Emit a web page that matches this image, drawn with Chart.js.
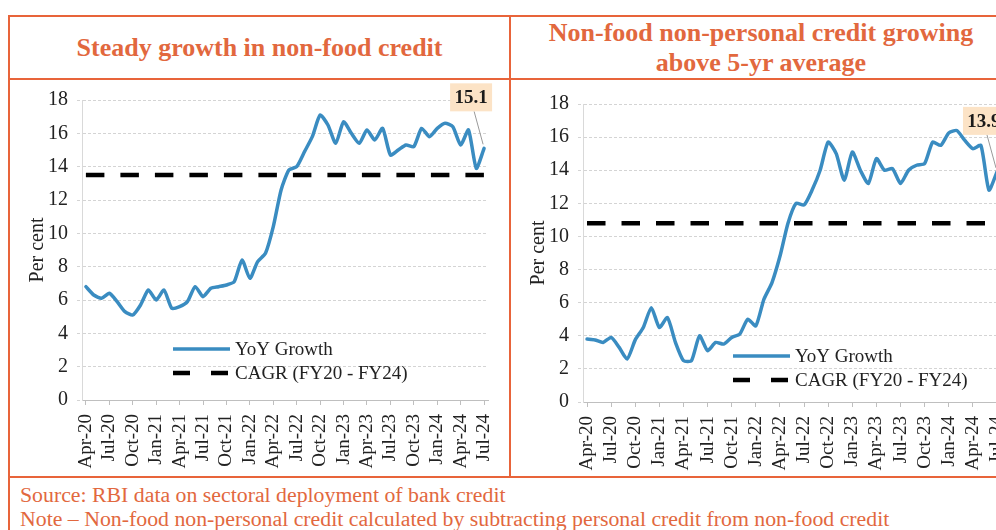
<!DOCTYPE html>
<html>
<head>
<meta charset="utf-8">
<script src="https://cdn.jsdelivr.net/npm/chart.js@4.4.1/dist/chart.umd.min.js"></script>
<style>
  html, body { margin: 0; padding: 0; background: #fff; }
  body { width: 996px; height: 530px; overflow: hidden; position: relative; font-family: 'Liberation Serif', 'Times New Roman', serif; }
  .rule { position: absolute; background: #e8643a; }
  .title { position: absolute; color: #e2683e; font-weight: bold; font-size: 26px; text-align: center; display: flex; align-items: center; justify-content: center; line-height: 30px; }
  .panel { position: absolute; }
  .notes { position: absolute; left: 20px; top: 483px; color: #e2683e; font-size: 20px; line-height: 24px; white-space: nowrap; transform: scaleX(1.09); transform-origin: left top; }
</style>
</head>
<body>

<div class="rule" style="left:8px; top:15px; width:1010px; height:2px;"></div>
<div class="rule" style="left:8px; top:78px; width:1010px; height:2px;"></div>
<div class="rule" style="left:8px; top:476px; width:1010px; height:2px;"></div>
<div class="rule" style="left:8px; top:15px; width:2px; height:520px;"></div>
<div class="rule" style="left:509px; top:15px; width:2px; height:463px;"></div>

<div class="title" style="left:10px; top:17px; width:499px; height:61px;">Steady growth in non-food credit</div>
<div class="title" style="left:511px; top:17px; width:500px; height:61px;">Non-food non-personal credit growing<br>above 5-yr average</div>

<div class="panel" style="left:11px; top:81px;"><canvas id="nonFoodChart" width="497" height="395"></canvas></div>
<div class="panel" style="left:512px; top:81px;"><canvas id="nonPersonalChart" width="499" height="395"></canvas></div>

<div class="notes">
  Source: RBI data on sectoral deployment of bank credit<br>
  Note – Non-food non-personal credit calculated by subtracting personal credit from non-food credit
</div>

<script>
// Data
const months = [
  'Apr-20','May-20','Jun-20','Jul-20','Aug-20','Sep-20','Oct-20','Nov-20','Dec-20',
  'Jan-21','Feb-21','Mar-21','Apr-21','May-21','Jun-21','Jul-21','Aug-21','Sep-21','Oct-21','Nov-21','Dec-21',
  'Jan-22','Feb-22','Mar-22','Apr-22','May-22','Jun-22','Jul-22','Aug-22','Sep-22','Oct-22','Nov-22','Dec-22',
  'Jan-23','Feb-23','Mar-23','Apr-23','May-23','Jun-23','Jul-23','Aug-23','Sep-23','Oct-23','Nov-23','Dec-23',
  'Jan-24','Feb-24','Mar-24','Apr-24','May-24','Jun-24','Jul-24'
];

const nonFoodYoY = [
  6.8, 6.3, 6.1, 6.4, 5.9, 5.3, 5.1, 5.7, 6.6,
  6.0, 6.6, 5.5, 5.6, 5.9, 6.8, 6.2, 6.7, 6.8, 6.9, 7.1, 8.4,
  7.3, 8.3, 8.8, 10.4, 12.6, 13.8, 14.0, 14.9, 15.8, 17.1, 16.5, 15.4,
  16.7, 16.0, 15.4, 16.2, 15.6, 16.3, 14.7, 15.0, 15.3, 15.2, 16.3, 15.8,
  16.3, 16.6, 16.4, 15.3, 16.2, 13.9, 15.1
];
const nonFoodCagr = 13.5;

const nonPersonalYoY = [
  3.8, 3.75, 3.6, 3.9, 3.3, 2.6, 3.75, 4.5, 5.7,
  4.5, 5.1, 3.6, 2.5, 2.5, 4.0, 3.1, 3.6, 3.5, 3.9, 4.1, 5.0,
  4.6, 6.2, 7.2, 8.8, 10.8, 12.0, 11.9, 12.8, 14.0, 15.7, 15.0, 13.4,
  15.1, 14.0, 13.2, 14.7, 14.0, 14.1, 13.2, 14.0, 14.3, 14.4, 15.7, 15.5,
  16.25, 16.4, 15.8, 15.3, 15.5, 12.8, 13.9
];
const nonPersonalCagr = 10.8;

const yTicks = [0, 2, 4, 6, 8, 10, 12, 14, 16, 18];
const legendNames = ['YoY Growth', 'CAGR (FY20 - FY24)'];

const SERIF = "'Liberation Serif', 'Times New Roman', serif";
const LINE_BLUE = '#3a8cc1';

// legend drawn inside the plot + boxed label on the last point
const overlayPlugin = {
  id: 'overlay',
  afterDatasetsDraw(chart, args, opts) {
    const ctx = chart.ctx;
    const area = chart.chartArea;
    ctx.save();

    // legend
    const lx = area.left + opts.legendX;
    let ly = area.top + opts.legendY;
    const sample = 57;
    chart.data.datasets.forEach((ds) => {
      ctx.beginPath();
      ctx.strokeStyle = ds.borderColor;
      ctx.lineWidth = ds.borderWidth;
      ctx.setLineDash(ds.borderDash ? [17, 21] : []);
      ctx.moveTo(lx, ly);
      ctx.lineTo(lx + sample, ly);
      ctx.stroke();
      ctx.setLineDash([]);
      ctx.fillStyle = '#222';
      ctx.font = '19px ' + SERIF;
      ctx.textBaseline = 'middle';
      ctx.textAlign = 'left';
      ctx.fillText(ds.label, lx + sample + 5, ly + 1);
      ly += 24;
    });

    // last value callout
    const pts = chart.getDatasetMeta(0).data;
    const last = pts[pts.length - 1];
    const values = chart.data.datasets[0].data;
    const bw = 42, bh = 28;
    const cx = last.x - 13, cy = last.y - 51;
    ctx.strokeStyle = '#9a9a9a';
    ctx.lineWidth = 1;
    ctx.beginPath();
    ctx.moveTo(cx + 3, cy + bh / 2);
    ctx.lineTo(last.x - 1, last.y - 4);
    ctx.stroke();
    ctx.fillStyle = '#fce3c6';
    ctx.fillRect(cx - bw / 2, cy - bh / 2, bw, bh);
    ctx.fillStyle = '#1a1a1a';
    ctx.font = 'bold 19px ' + SERIF;
    ctx.textAlign = 'center';
    ctx.textBaseline = 'middle';
    ctx.fillText(values[values.length - 1].toFixed(1), cx, cy + 1);

    ctx.restore();
  }
};

function makeChart(canvasId, yoy, cagr, layout) {
  return new Chart(document.getElementById(canvasId), {
    type: 'line',
    data: {
      labels: months,
      datasets: [
        {
          label: legendNames[0],
          data: yoy,
          borderColor: LINE_BLUE,
          borderWidth: 3.5,
          pointRadius: 0,
          tension: 0.2,
          borderJoinStyle: 'round',
          borderCapStyle: 'round'
        },
        {
          label: legendNames[1],
          data: months.map(() => cagr),
          borderColor: '#000',
          borderWidth: 4.5,
          borderDash: [18.5, 16],
          pointRadius: 0
        }
      ]
    },
    options: {
      responsive: false,
      animation: false,
      devicePixelRatio: 1,
      layout: { padding: { left: 0, top: layout.top, right: layout.right, bottom: 0 } },
      plugins: {
        legend: { display: false },
        tooltip: { enabled: false },
        overlay: { legendX: layout.legendX, legendY: layout.legendY }
      },
      scales: {
        x: {
          type: 'category',
          offset: true,
          afterFit: (s) => {
            s.height = layout.xHeight;
            s.paddingLeft = 0;
            s.paddingRight = 0;
          },
          grid: { drawOnChartArea: false, drawTicks: true, tickLength: 5, color: '#bfbfbf' },
          border: { display: true, color: '#bfbfbf', width: 1 },
          ticks: {
            autoSkip: false,
            minRotation: 90,
            maxRotation: 90,
            padding: 9,
            color: '#222',
            font: { family: SERIF, size: 19 },
            callback: function(val, i) {
              return i % 3 === 0 ? this.getLabelForValue(val) : null;
            }
          }
        },
        y: {
          min: yTicks[0],
          max: yTicks[yTicks.length - 1],
          afterFit: (s) => {
            s.width = 71;
            s.paddingTop = 0;
            s.paddingBottom = 0;
          },
          afterBuildTicks: (s) => { s.ticks = yTicks.map(v => ({ value: v })); },
          grid: { color: '#d4d4d4', tickLength: 5, tickBorderDash: [3, 2] },
          border: { display: true, color: '#d9d9d9', dash: [3, 2] },
          ticks: {
            padding: 9,
            color: '#222',
            font: { family: SERIF, size: 20 }
          },
          title: {
            display: true,
            text: 'Per cent',
            color: '#222',
            font: { family: SERIF, size: 20 },
            padding: { top: 15, bottom: 0 }
          }
        }
      }
    },
    plugins: [overlayPlugin]
  });
}

makeChart('nonFoodChart', nonFoodYoY, nonFoodCagr,
  { top: 19, right: 20, xHeight: 76, legendX: 91, legendY: 249 });
makeChart('nonPersonalChart', nonPersonalYoY, nonPersonalCagr,
  { top: 23, right: 10, xHeight: 74, legendX: 150, legendY: 252 });
</script>
</body>
</html>
